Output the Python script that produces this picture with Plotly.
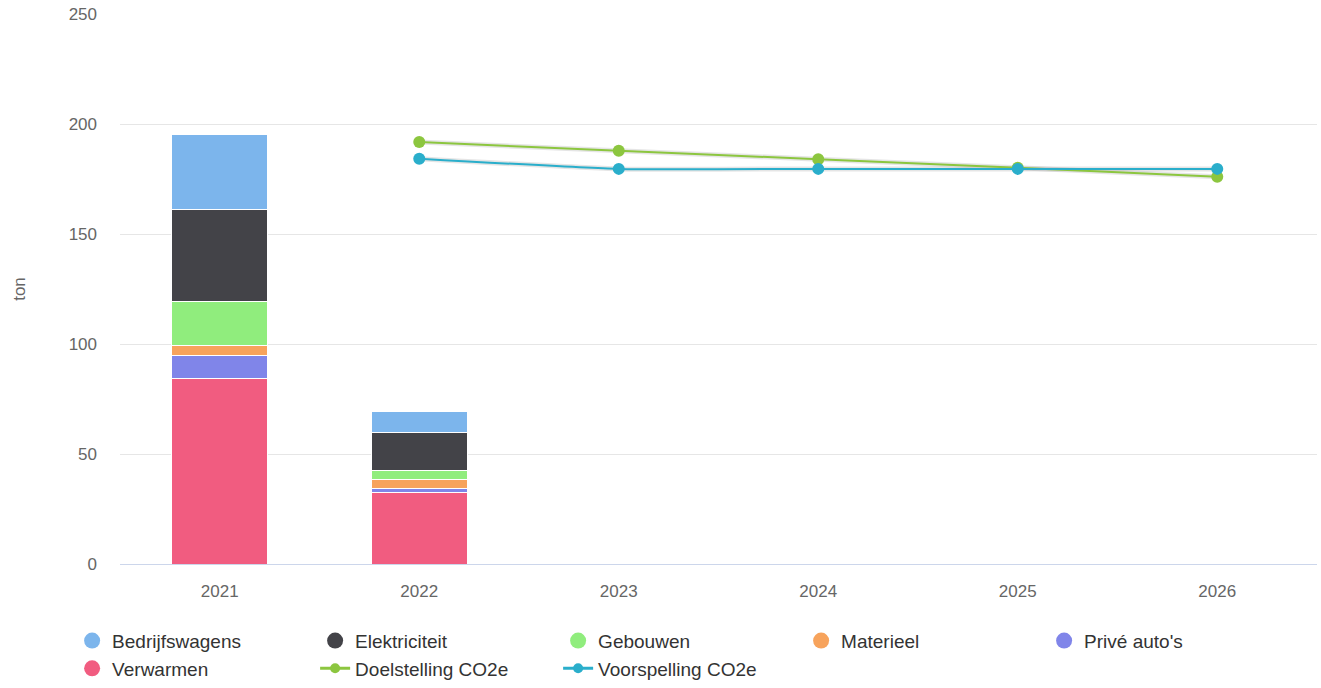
import plotly.graph_objects as go

years = ["2021", "2022", "2023", "2024", "2025", "2026"]
bar_years = ["2021", "2022"]

# Emission categories (stacked bars), bottom to top
verwarmen = [84.1, 32.4]
prive_autos = [10.5, 2.0]
materieel = [4.7, 3.8]
gebouwen = [20.0, 4.5]
elektriciteit = [41.7, 17.0]
bedrijfswagens = [34.1, 9.5]

line_years = ["2022", "2023", "2024", "2025", "2026"]
doelstelling = [191.8, 187.8, 184.0, 180.1, 176.0]
voorspelling = [184.2, 179.6, 179.6, 179.6, 179.6]

y_ticks = [0, 50, 100, 150, 200, 250]

colors = {
    "Bedrijfswagens": "#7cb5ec",
    "Elektriciteit": "#434348",
    "Gebouwen": "#90ed7d",
    "Materieel": "#f7a35c",
    "Privé auto's": "#8085e9",
    "Verwarmen": "#f15c80",
}
line_green = "#8cc63f"
line_blue = "#2aaecb"

fig = go.Figure()

stack = [
    ("Verwarmen", verwarmen),
    ("Privé auto's", prive_autos),
    ("Materieel", materieel),
    ("Gebouwen", gebouwen),
    ("Elektriciteit", elektriciteit),
    ("Bedrijfswagens", bedrijfswagens),
]
for name, vals in stack:
    fig.add_trace(go.Bar(
        x=bar_years, y=vals, name=name, showlegend=False,
        marker=dict(color=colors[name], line=dict(color="white", width=1)),
    ))

# Soft shadow under the two lines
for vals in (doelstelling, voorspelling):
    fig.add_trace(go.Scatter(
        x=line_years, y=vals, mode="lines", showlegend=False, hoverinfo="skip",
        line=dict(color="rgba(0,0,0,0.10)", width=5, shape="spline", smoothing=0.5),
    ))

fig.add_trace(go.Scatter(
    x=line_years, y=doelstelling, name="Doelstelling CO2e", mode="lines+markers",
    line=dict(color=line_green, width=2, shape="spline", smoothing=0.5),
    marker=dict(size=12, color=line_green), showlegend=False,
))
fig.add_trace(go.Scatter(
    x=line_years, y=voorspelling, name="Voorspelling CO2e", mode="lines+markers",
    line=dict(color=line_blue, width=2, shape="spline", smoothing=0.5),
    marker=dict(size=12, color=line_blue), showlegend=False,
))

# Legend entries: round symbols for the categories, line symbols for the series
for name in ["Bedrijfswagens", "Elektriciteit", "Gebouwen", "Materieel", "Privé auto's", "Verwarmen"]:
    fig.add_trace(go.Scatter(
        x=[None], y=[None], mode="markers", name=name,
        marker=dict(size=16, color=colors[name], symbol="circle"),
    ))
fig.add_trace(go.Scatter(
    x=[None], y=[None], mode="lines+markers", name="Doelstelling CO2e",
    line=dict(color=line_green, width=3), marker=dict(size=10, color=line_green),
))
fig.add_trace(go.Scatter(
    x=[None], y=[None], mode="lines+markers", name="Voorspelling CO2e",
    line=dict(color=line_blue, width=3), marker=dict(size=10, color=line_blue),
))

fig.update_layout(
    width=1321, height=688,
    margin=dict(l=120, r=4, t=14, b=124, autoexpand=False),
    paper_bgcolor="white", plot_bgcolor="white",
    font=dict(family="Liberation Sans, Arial, sans-serif", color="#666666", size=16),
    barmode="stack", bargap=0.52,
    xaxis=dict(
        type="category", categoryorder="array", categoryarray=years,
        range=[-0.5, 5.5], showgrid=False, showline=True, linecolor="#ccd6eb",
        linewidth=1, ticks="", tickfont=dict(size=17, color="#666666"),
        ticklabelstandoff=12,
    ),
    yaxis=dict(
        range=[0, 250], tickvals=y_ticks, showgrid=True, gridcolor="#e6e6e6",
        zeroline=False, ticks="", tickfont=dict(size=17, color="#666666"),
        ticklabelstandoff=22,
        title=dict(text="ton", font=dict(size=17, color="#666666"), standoff=38),
    ),
    legend=dict(
        orientation="h", x=-0.040, xanchor="left", y=-0.105, yanchor="top",
        entrywidth=198, entrywidthmode="pixels", traceorder="normal",
        font=dict(size=19, color="#333333"), itemsizing="trace",
        bgcolor="rgba(0,0,0,0)", tracegroupgap=0,
    ),
    showlegend=True,
)

fig.write_html("out.html")
